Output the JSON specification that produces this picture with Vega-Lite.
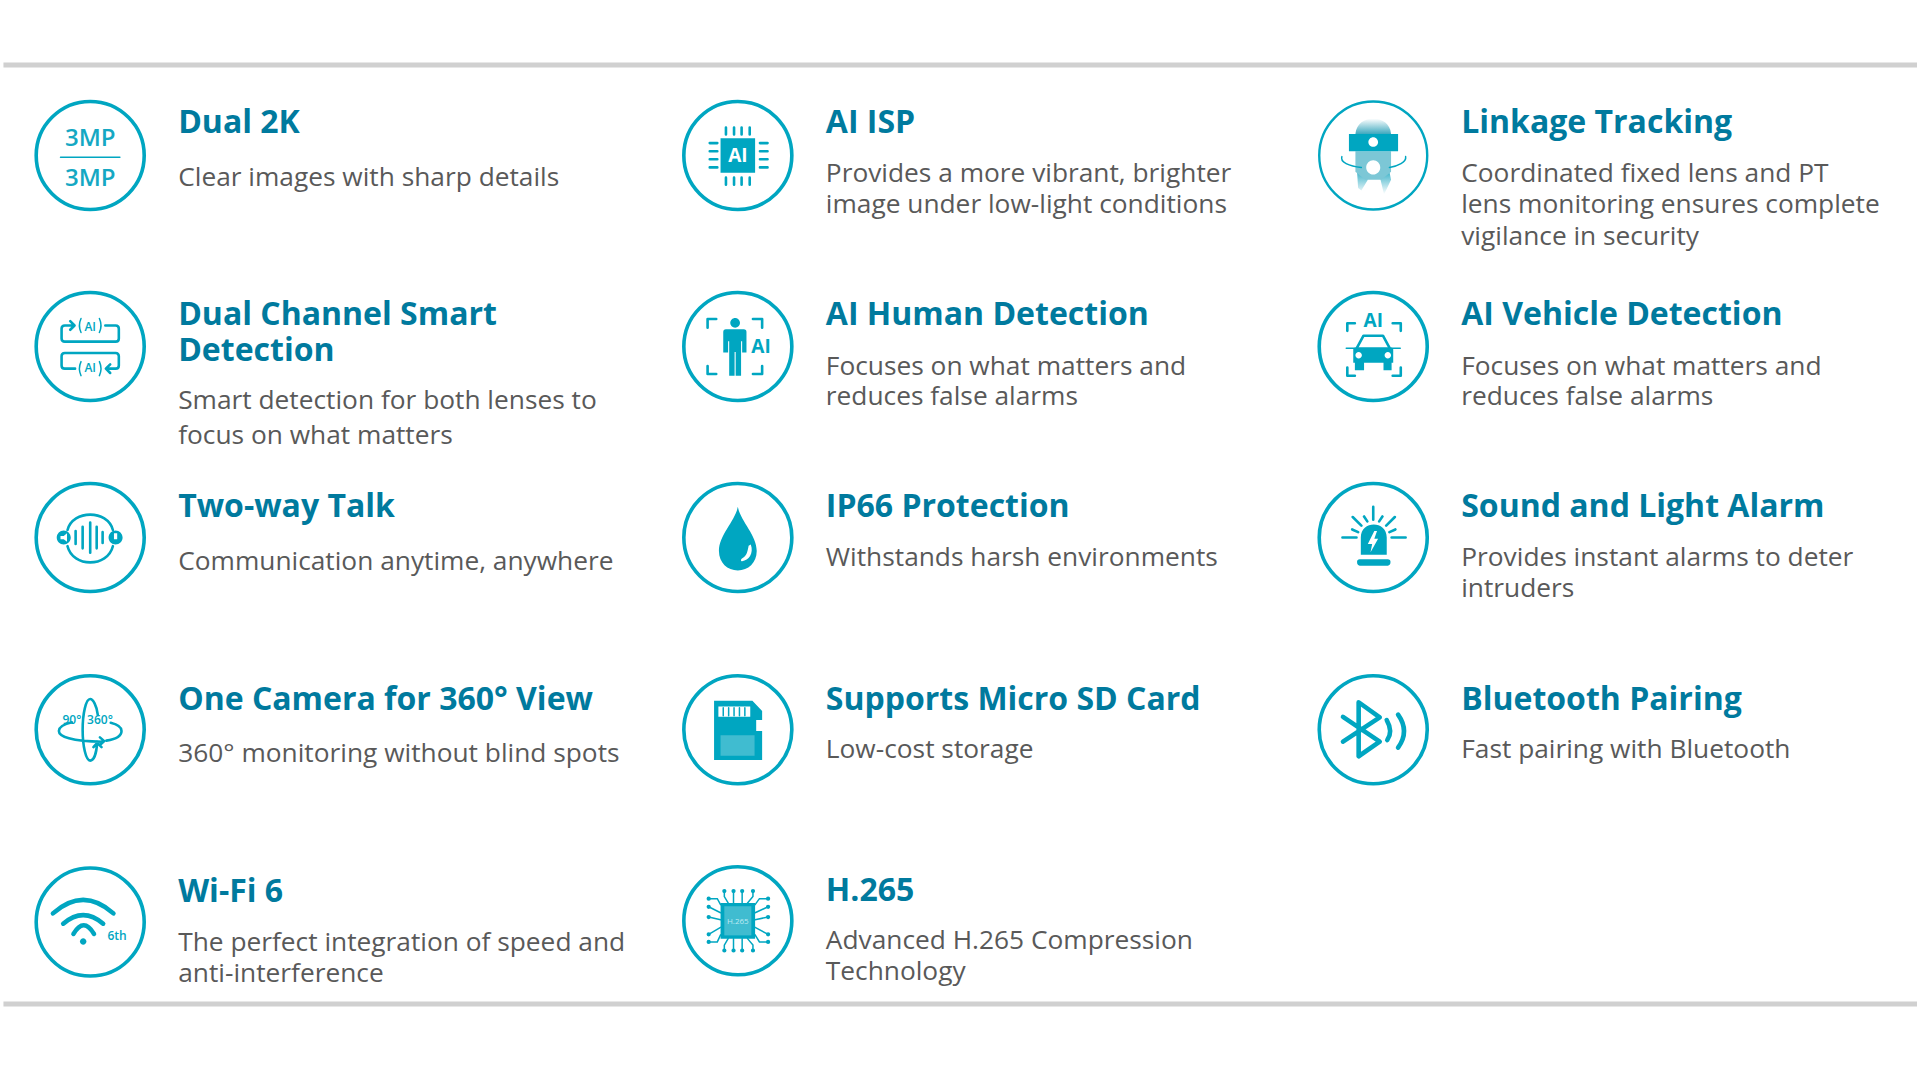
{
  "$schema": "https://vega.github.io/schema/vega-lite/v6.json",
  "description": "Camera feature overview: fourteen icons with headings and descriptions.",
  "autosize": {"type": "fit", "contains": "padding"},
  "width": 1920,
  "height": 1080,
  "padding": 0,
  "background": "white",
  "config": {"view": {"stroke": null}},
  "datasets": {
    "rules": [
      {"x": 2, "x2": 1568, "y": 53},
      {"x": 2, "x2": 1568, "y": 820}
    ],
    "parts": [
      {"x": 73, "y": 127, "part": "ring", "kind": "ring"},
      {"x": 73, "y": 283, "part": "ring", "kind": "ring"},
      {"x": 73, "y": 439, "part": "ring", "kind": "ring"},
      {"x": 73, "y": 596, "part": "ring", "kind": "ring"},
      {"x": 73, "y": 753, "part": "ring", "kind": "ring"},
      {"x": 603, "y": 127, "part": "ring", "kind": "ring"},
      {"x": 603, "y": 283, "part": "ring", "kind": "ring"},
      {"x": 603, "y": 439, "part": "ring", "kind": "ring"},
      {"x": 603, "y": 596, "part": "ring", "kind": "ring"},
      {"x": 603, "y": 752, "part": "ring", "kind": "ring"},
      {"x": 1123, "y": 127, "part": "ring", "kind": "thinring"},
      {"x": 1123, "y": 283, "part": "ring", "kind": "ring"},
      {"x": 1123, "y": 439, "part": "ring", "kind": "ring"},
      {"x": 1123, "y": 596, "part": "ring", "kind": "ring"},
      {"x": 73, "y": 127, "part": "mp-line", "kind": "thin"},
      {"x": 73, "y": 283, "part": "ai-loops", "kind": "line"},
      {"x": 73, "y": 283, "part": "ai-brackets", "kind": "thin"},
      {"x": 603, "y": 127, "part": "chip-core", "kind": "fill"},
      {"x": 603, "y": 127, "part": "chip-pins", "kind": "line"},
      {"x": 603, "y": 283, "part": "person", "kind": "fill"},
      {"x": 603, "y": 283, "part": "person-frame", "kind": "line"},
      {"x": 1123, "y": 127, "part": "cam-glow", "kind": "glowup"},
      {"x": 1123, "y": 127, "part": "cam-legs", "kind": "glowdown"},
      {"x": 1123, "y": 127, "part": "cam-tint", "kind": "tint"},
      {"x": 1123, "y": 127, "part": "cam-fill", "kind": "fill"},
      {"x": 1123, "y": 127, "part": "cam-holes", "kind": "white"},
      {"x": 1123, "y": 127, "part": "cam-orbit", "kind": "thin"},
      {"x": 1123, "y": 283, "part": "car-fill", "kind": "fill"},
      {"x": 1123, "y": 283, "part": "car-lights", "kind": "white"},
      {"x": 1123, "y": 283, "part": "car-line", "kind": "line"},
      {"x": 1123, "y": 283, "part": "car-beam", "kind": "thin"},
      {"x": 73, "y": 439, "part": "talk-line", "kind": "line"},
      {"x": 73, "y": 439, "part": "talk-ends", "kind": "fill"},
      {"x": 73, "y": 439, "part": "talk-marks", "kind": "white"},
      {"x": 603, "y": 439, "part": "drop", "kind": "fill"},
      {"x": 603, "y": 439, "part": "drop-shine", "kind": "white"},
      {"x": 1123, "y": 439, "part": "alarm-fill", "kind": "fill"},
      {"x": 1123, "y": 439, "part": "alarm-bolt", "kind": "white"},
      {"x": 1123, "y": 439, "part": "alarm-rays", "kind": "line"},
      {"x": 73, "y": 596, "part": "orbit-line", "kind": "line"},
      {"x": 603, "y": 596, "part": "sd-card", "kind": "fill"},
      {"x": 603, "y": 596, "part": "sd-slot", "kind": "white"},
      {"x": 603, "y": 596, "part": "sd-label", "kind": "veil"},
      {"x": 603, "y": 596, "part": "sd-teeth", "kind": "thin"},
      {"x": 1123, "y": 596, "part": "bt-rune", "kind": "thick"},
      {"x": 1123, "y": 596, "part": "bt-waves", "kind": "thick"},
      {"x": 73, "y": 753, "part": "wifi-arcs", "kind": "thick"},
      {"x": 73, "y": 753, "part": "wifi-dot", "kind": "fill"},
      {"x": 603, "y": 752, "part": "h265-chip", "kind": "fill"},
      {"x": 603, "y": 752, "part": "h265-inner", "kind": "veil"},
      {"x": 603, "y": 752, "part": "h265-traces", "kind": "thin"},
      {"x": 603, "y": 752, "part": "h265-dots", "kind": "dot"}
    ],
    "texts": [
      {"x": 145, "y": 108.5, "text": "Dual 2K", "role": "title"},
      {"x": 145, "y": 152, "text": "Clear images with sharp details", "role": "body"},
      {"x": 675, "y": 108.5, "text": "AI ISP", "role": "title"},
      {"x": 675, "y": 149, "text": "Provides a more vibrant, brighter", "role": "body"},
      {"x": 675, "y": 174, "text": "image under low-light conditions", "role": "body"},
      {"x": 1195, "y": 108.5, "text": "Linkage Tracking", "role": "title"},
      {"x": 1195, "y": 149, "text": "Coordinated fixed lens and PT", "role": "body"},
      {"x": 1195, "y": 174, "text": "lens monitoring ensures complete", "role": "body"},
      {"x": 1195, "y": 200, "text": "vigilance in security", "role": "body"},
      {"x": 145, "y": 265.5, "text": "Dual Channel Smart", "role": "title"},
      {"x": 145, "y": 294.5, "text": "Detection", "role": "title"},
      {"x": 145, "y": 334, "text": "Smart detection for both lenses to", "role": "body"},
      {"x": 145, "y": 362.5, "text": "focus on what matters", "role": "body"},
      {"x": 675, "y": 265.5, "text": "AI Human Detection", "role": "title"},
      {"x": 675, "y": 306, "text": "Focuses on what matters and", "role": "body"},
      {"x": 675, "y": 331, "text": "reduces false alarms", "role": "body"},
      {"x": 1195, "y": 265.5, "text": "AI Vehicle Detection", "role": "title"},
      {"x": 1195, "y": 306, "text": "Focuses on what matters and", "role": "body"},
      {"x": 1195, "y": 331, "text": "reduces false alarms", "role": "body"},
      {"x": 145, "y": 422.5, "text": "Two-way Talk", "role": "title"},
      {"x": 145, "y": 465.5, "text": "Communication anytime, anywhere", "role": "body"},
      {"x": 675, "y": 422.5, "text": "IP66 Protection", "role": "title"},
      {"x": 675, "y": 462, "text": "Withstands harsh environments", "role": "body"},
      {"x": 1195, "y": 422.5, "text": "Sound and Light Alarm", "role": "title"},
      {"x": 1195, "y": 462, "text": "Provides instant alarms to deter", "role": "body"},
      {"x": 1195, "y": 487.5, "text": "intruders", "role": "body"},
      {"x": 145, "y": 580, "text": "One Camera for 360° View", "role": "title"},
      {"x": 145, "y": 622, "text": "360° monitoring without blind spots", "role": "body"},
      {"x": 675, "y": 580, "text": "Supports Micro SD Card", "role": "title"},
      {"x": 675, "y": 619, "text": "Low-cost storage", "role": "body"},
      {"x": 1195, "y": 580, "text": "Bluetooth Pairing", "role": "title"},
      {"x": 1195, "y": 619, "text": "Fast pairing with Bluetooth", "role": "body"},
      {"x": 145, "y": 737, "text": "Wi-Fi 6", "role": "title"},
      {"x": 145, "y": 776.5, "text": "The perfect integration of speed and", "role": "body"},
      {"x": 145, "y": 802, "text": "anti-interference", "role": "body"},
      {"x": 675, "y": 736, "text": "H.265", "role": "title"},
      {"x": 675, "y": 775, "text": "Advanced H.265 Compression", "role": "body"},
      {"x": 675, "y": 800, "text": "Technology", "role": "body"}
    ],
    "glyphs": [
      {"x": 73, "y": 119, "text": "3MP", "role": "mp"},
      {"x": 73, "y": 152, "text": "3MP", "role": "mp"},
      {"x": 622, "y": 288, "text": "AI", "role": "ai"},
      {"x": 1123, "y": 267, "text": "AI", "role": "ai"},
      {"x": 603, "y": 132, "text": "AI", "role": "chip"},
      {"x": 73, "y": 270, "text": "AI", "role": "small"},
      {"x": 73, "y": 304, "text": "AI", "role": "small"},
      {"x": 58, "y": 591, "text": "90°", "role": "small"},
      {"x": 81, "y": 591, "text": "360°", "role": "small"},
      {"x": 95, "y": 768, "text": "6th", "role": "small"},
      {"x": 603, "y": 755, "text": "H.265", "role": "tiny"}
    ]
  },
  "encoding": {
    "x": {"field": "x", "type": "quantitative", "axis": null, "scale": {"domain": [0, 1568], "nice": false, "zero": false}},
    "y": {"field": "y", "type": "quantitative", "axis": null, "scale": {"domain": [0, 882], "reverse": true, "nice": false, "zero": false}}
  },
  "layer": [
    {
      "data": {"name": "rules"},
      "mark": {"type": "rule", "color": "#d0d0d0", "strokeWidth": 5},
      "encoding": {"x2": {"field": "x2"}}
    },
    {
      "data": {"name": "parts"},
      "encoding": {
        "shape": {
          "field": "part",
          "type": "nominal",
          "legend": null,
          "scale": {
            "domain": ["ring", "mp-line", "ai-loops", "ai-brackets", "chip-core", "chip-pins", "person", "person-frame", "cam-glow", "cam-legs", "cam-tint", "cam-fill", "cam-holes", "cam-orbit", "car-fill", "car-lights", "car-line", "car-beam", "talk-line", "talk-ends", "talk-marks", "drop", "drop-shine", "alarm-fill", "alarm-bolt", "alarm-rays", "orbit-line", "sd-card", "sd-slot", "sd-label", "sd-teeth", "bt-rune", "bt-waves", "wifi-arcs", "wifi-dot", "h265-chip", "h265-inner", "h265-traces", "h265-dots"],
            "range": [
              "circle",
              "M -0.55 0.03 L 0.55 0.03",
              "M -0.3 -0.39 L -0.47 -0.39 Q -0.53 -0.39 -0.53 -0.33 L -0.53 -0.15 Q -0.53 -0.09 -0.47 -0.09 L 0.47 -0.09 Q 0.53 -0.09 0.53 -0.15 L 0.53 -0.33 Q 0.53 -0.39 0.47 -0.39 L 0.28 -0.39 M -0.37 -0.47 L -0.29 -0.39 L -0.37 -0.31 M 0.3 0.41 L 0.47 0.41 Q 0.53 0.41 0.53 0.35 L 0.53 0.18 Q 0.53 0.12 0.47 0.12 L -0.47 0.12 Q -0.53 0.12 -0.53 0.18 L -0.53 0.35 Q -0.53 0.41 -0.47 0.41 L -0.28 0.41 M 0.37 0.33 L 0.29 0.41 L 0.37 0.49",
              "M -0.17 -0.52 Q -0.23 -0.39 -0.17 -0.26 M 0.17 -0.52 Q 0.23 -0.39 0.17 -0.26 M -0.17 0.28 Q -0.23 0.41 -0.17 0.54 M 0.17 0.28 Q 0.23 0.41 0.17 0.54",
              "M -0.32 -0.32 L 0.32 -0.32 L 0.32 0.32 L -0.32 0.32 Z",
              "M -0.22 -0.52 L -0.22 -0.39 M -0.07 -0.52 L -0.07 -0.39 M 0.07 -0.52 L 0.07 -0.39 M 0.22 -0.52 L 0.22 -0.39 M -0.22 0.41 L -0.22 0.54 M -0.07 0.41 L -0.07 0.54 M 0.07 0.41 L 0.07 0.54 M 0.22 0.41 L 0.22 0.54 M -0.52 -0.23 L -0.38 -0.23 M -0.52 -0.08 L -0.38 -0.08 M -0.52 0.07 L -0.38 0.07 M -0.52 0.22 L -0.38 0.22 M 0.41 -0.23 L 0.55 -0.23 M 0.41 -0.08 L 0.55 -0.08 M 0.41 0.07 L 0.55 0.07 M 0.41 0.22 L 0.55 0.22",
              "M -0.14 -0.44 C -0.14 -0.49 -0.1 -0.53 -0.05 -0.53 C 0 -0.53 0.04 -0.49 0.04 -0.44 C 0.04 -0.39 0 -0.35 -0.05 -0.35 C -0.1 -0.35 -0.14 -0.39 -0.14 -0.44 Z M -0.22 -0.32 L 0.11 -0.32 Q 0.16 -0.32 0.16 -0.27 L 0.16 0.11 L 0.08 0.11 L 0.08 -0.1 L 0.06 -0.1 L 0.06 0.54 L -0.04 0.54 L -0.04 0.1 L -0.06 0.1 L -0.06 0.54 L -0.16 0.54 L -0.16 -0.1 L -0.18 -0.1 L -0.18 0.11 L -0.27 0.11 L -0.27 -0.27 Q -0.27 -0.32 -0.22 -0.32 Z",
              "M -0.4 -0.51 L -0.56 -0.51 L -0.56 -0.35 M 0.28 -0.51 L 0.45 -0.51 L 0.45 -0.35 M -0.56 0.36 L -0.56 0.51 L -0.4 0.51 M 0.45 0.36 L 0.45 0.51 L 0.28 0.51",
              "M -0.33 -0.4 C -0.3 -0.78 0.3 -0.78 0.33 -0.4 Z",
              "M -0.3 0.3 L -0.15 0.3 L -0.1 0.45 L -0.22 0.65 L -0.28 0.6 Z M 0.1 0.3 L 0.3 0.3 L 0.33 0.45 L 0.2 0.72 Z",
              "M -0.33 -0.08 L 0.33 -0.08 L 0.33 0.3 L 0.15 0.45 L -0.15 0.45 L -0.33 0.3 Z",
              "M -0.45 -0.4 L 0.46 -0.4 L 0.46 -0.08 L -0.45 -0.08 Z",
              "M -0.09 -0.25 C -0.09 -0.3 -0.05 -0.34 0 -0.34 C 0.05 -0.34 0.09 -0.3 0.09 -0.25 C 0.09 -0.2 0.05 -0.16 0 -0.16 C -0.05 -0.16 -0.09 -0.2 -0.09 -0.25 Z M -0.13 0.22 C -0.13 0.15 -0.07 0.09 0 0.09 C 0.07 0.09 0.13 0.15 0.13 0.22 C 0.13 0.29 0.07 0.35 0 0.35 C -0.07 0.35 -0.13 0.29 -0.13 0.22 Z",
              "M -0.58 0.02 C -0.62 0.12 -0.45 0.2 -0.22 0.22 M 0.6 0.02 C 0.62 0.12 0.45 0.2 0.3 0.22",
              "M -0.37 0.05 Q -0.37 0.02 -0.33 0.02 L 0.33 0.02 Q 0.37 0.02 0.37 0.05 L 0.37 0.3 L 0.34 0.3 L 0.34 0.44 L 0.19 0.44 L 0.19 0.3 L -0.17 0.3 L -0.17 0.44 L -0.34 0.44 L -0.34 0.3 L -0.37 0.3 Z",
              "M -0.33 0.16 C -0.33 0.13 -0.3 0.1 -0.27 0.1 C -0.24 0.1 -0.21 0.13 -0.21 0.16 C -0.21 0.19 -0.24 0.22 -0.27 0.22 C -0.3 0.22 -0.33 0.19 -0.33 0.16 Z M 0.21 0.16 C 0.21 0.13 0.24 0.1 0.27 0.1 C 0.3 0.1 0.33 0.13 0.33 0.16 C 0.33 0.19 0.3 0.22 0.27 0.22 C 0.24 0.22 0.21 0.19 0.21 0.16 Z",
              "M -0.3 0.02 L -0.18 -0.2 L 0.18 -0.2 L 0.3 0.02 M -0.34 -0.43 L -0.48 -0.43 L -0.48 -0.29 M 0.36 -0.43 L 0.51 -0.43 L 0.51 -0.29 M -0.48 0.39 L -0.48 0.54 L -0.34 0.54 M 0.51 0.39 L 0.51 0.54 L 0.36 0.54",
              "M -0.5 0.03 L 0.5 0.03",
              "M -0.27 -0.12 L -0.27 0.12 M -0.14 -0.2 L -0.14 0.2 M 0 -0.28 L 0 0.28 M 0.12 -0.2 L 0.12 0.2 M 0.23 -0.1 L 0.23 0.1 M -0.42 -0.14 C -0.32 -0.52 0.32 -0.52 0.42 -0.14 M -0.42 0.16 C -0.32 0.56 0.32 0.56 0.42 0.16",
              "M -0.62 0 C -0.62 -0.07 -0.56 -0.13 -0.49 -0.13 C -0.42 -0.13 -0.36 -0.07 -0.36 0 C -0.36 0.07 -0.42 0.13 -0.49 0.13 C -0.56 0.13 -0.62 0.07 -0.62 0 Z M 0.34 0 C 0.34 -0.07 0.4 -0.13 0.47 -0.13 C 0.54 -0.13 0.6 -0.07 0.6 0 C 0.6 0.07 0.54 0.13 0.47 0.13 C 0.4 0.13 0.34 0.07 0.34 0 Z",
              "M -0.55 -0.03 L -0.49 -0.03 L -0.43 -0.08 L -0.43 0.08 L -0.49 0.03 L -0.55 0.03 Z M 0.44 -0.08 L 0.5 -0.08 L 0.5 0.03 L 0.44 0.03 Z",
              "M 0 -0.57 C 0.05 -0.3 0.35 -0.05 0.35 0.25 C 0.35 0.47 0.19 0.61 0 0.61 C -0.19 0.61 -0.35 0.47 -0.35 0.25 C -0.35 -0.05 -0.05 -0.3 0 -0.57 Z",
              "M 0.24 0.13 C 0.3 0.3 0.2 0.42 0.08 0.44 C 0.05 0.44 0.05 0.4 0.09 0.38 C 0.17 0.33 0.18 0.25 0.2 0.15 Z",
              "M -0.23 0.32 L -0.23 0 C -0.23 -0.32 0.25 -0.32 0.25 0 L 0.25 0.32 Z M -0.3 0.45 Q -0.3 0.4 -0.25 0.4 L 0.27 0.4 Q 0.32 0.4 0.32 0.45 Q 0.32 0.52 0.27 0.52 L -0.25 0.52 Q -0.3 0.52 -0.3 0.45 Z",
              "M 0.02 -0.12 L -0.1 0.12 L -0.02 0.12 L -0.05 0.27 L 0.09 0.02 L 0.02 0.02 L 0.07 -0.12 Z",
              "M 0 -0.57 L 0 -0.33 M -0.38 -0.38 L -0.22 -0.22 M 0.4 -0.38 L 0.24 -0.22 M -0.17 -0.39 L -0.11 -0.3 M 0.17 -0.39 L 0.11 -0.3 M -0.39 -0.15 L -0.28 -0.1 M 0.41 -0.15 L 0.3 -0.1 M -0.57 0 L -0.31 0 M 0.34 0 L 0.6 0",
              "M 0.14 -0.28 C 0.12 -0.45 0.05 -0.57 0 -0.57 C -0.08 -0.57 -0.14 -0.3 -0.14 0 C -0.14 0.3 -0.08 0.57 0 0.57 C 0.08 0.57 0.12 0.4 0.13 0.22 M -0.34 -0.14 C -0.5 -0.1 -0.58 -0.04 -0.58 0.02 C -0.58 0.12 -0.35 0.22 0.22 0.22 M 0.3 0.2 C 0.48 0.17 0.58 0.1 0.58 0.02 C 0.58 -0.04 0.5 -0.1 0.38 -0.13 M 0.18 0.14 L 0.26 0.21 L 0.18 0.28 M 0.06 0.32 L 0.13 0.24 L 0.21 0.32",
              "M -0.44 -0.54 L 0.27 -0.54 L 0.45 -0.35 L 0.45 -0.18 L 0.34 -0.18 L 0.34 0.02 L 0.45 0.02 L 0.45 0.56 L -0.44 0.56 Z",
              "M -0.36 -0.43 L 0.23 -0.43 L 0.23 -0.24 L -0.36 -0.24 Z",
              "M -0.32 0.1 L 0.31 0.1 L 0.31 0.48 L -0.32 0.48 Z",
              "M -0.27 -0.41 L -0.27 -0.26 M -0.17 -0.41 L -0.17 -0.26 M -0.07 -0.41 L -0.07 -0.26 M 0.03 -0.41 L 0.03 -0.26 M 0.13 -0.41 L 0.13 -0.26",
              "M -0.56 -0.24 L 0.12 0.22 L -0.27 0.49 L -0.27 -0.51 L 0.12 -0.23 L -0.56 0.22",
              "M 0.25 -0.18 Q 0.37 0.03 0.26 0.19 M 0.46 -0.28 Q 0.68 0.03 0.46 0.33",
              "M -0.69 -0.16 Q -0.13 -0.66 0.43 -0.16 M -0.5 0.03 Q -0.13 -0.29 0.24 0.03 M -0.31 0.22 Q -0.12 -0.1 0.07 0.22",
              "M -0.19 0.36 C -0.19 0.33 -0.16 0.3 -0.13 0.3 C -0.1 0.3 -0.07 0.33 -0.07 0.36 C -0.07 0.39 -0.1 0.42 -0.13 0.42 C -0.16 0.42 -0.19 0.39 -0.19 0.36 Z",
              "M -0.32 -0.33 L 0.32 -0.33 L 0.32 0.33 L -0.32 0.33 Z",
              "M -0.25 -0.27 L 0.25 -0.27 L 0.25 0.27 L -0.25 0.27 Z",
              "M -0.25 -0.55 L -0.25 -0.45 L -0.18 -0.33 M -0.08 -0.55 L -0.08 -0.33 M 0.08 -0.55 L 0.08 -0.33 M 0.28 -0.55 L 0.28 -0.45 L 0.18 -0.33 M -0.25 0.55 L -0.25 0.45 L -0.18 0.33 M -0.08 0.55 L -0.08 0.33 M 0.08 0.55 L 0.08 0.33 M 0.28 0.55 L 0.28 0.45 L 0.18 0.33 M -0.54 -0.41 L -0.38 -0.41 L -0.32 -0.3 M -0.54 -0.26 L -0.32 -0.15 M -0.54 -0.07 L -0.32 -0.02 M -0.54 0.25 L -0.32 0.12 M -0.54 0.39 L -0.38 0.39 L -0.32 0.26 M 0.56 -0.41 L 0.4 -0.41 L 0.32 -0.3 M 0.56 -0.26 L 0.32 -0.15 M 0.56 -0.07 L 0.32 -0.02 M 0.56 0.25 L 0.32 0.12 M 0.56 0.39 L 0.4 0.39 L 0.32 0.26",
              "M -0.25 -0.55 L -0.249 -0.55 M -0.08 -0.55 L -0.079 -0.55 M 0.08 -0.55 L 0.081 -0.55 M 0.28 -0.55 L 0.281 -0.55 M -0.25 0.55 L -0.249 0.55 M -0.08 0.55 L -0.079 0.55 M 0.08 0.55 L 0.081 0.55 M 0.28 0.55 L 0.281 0.55 M -0.54 -0.41 L -0.539 -0.41 M -0.54 -0.26 L -0.539 -0.26 M -0.54 -0.07 L -0.539 -0.07 M -0.54 0.25 L -0.539 0.25 M -0.54 0.39 L -0.539 0.39 M 0.56 -0.41 L 0.561 -0.41 M 0.56 -0.26 L 0.561 -0.26 M 0.56 -0.07 L 0.561 -0.07 M 0.56 0.25 L 0.561 0.25 M 0.56 0.39 L 0.561 0.39"
            ]
          }
        }
      },
      "layer": [
        {"transform": [{"filter": "datum.kind == 'ring'"}], "mark": {"type": "point", "filled": false, "size": 11664, "color": "#00a6c1", "opacity": 1, "strokeWidth": 3.6}},
        {"transform": [{"filter": "datum.kind == 'thinring'"}], "mark": {"type": "point", "filled": false, "size": 11664, "color": "#00a6c1", "opacity": 1, "strokeWidth": 2.4}},
        {"transform": [{"filter": "datum.kind == 'glowup'"}], "mark": {"type": "point", "filled": true, "size": 11664, "opacity": 1, "color": {"gradient": "linear", "x1": 0, "y1": 1, "x2": 0, "y2": 0, "stops": [{"offset": 0, "color": "#3fa9bf"}, {"offset": 1, "color": "#ffffff"}]}}},
        {"transform": [{"filter": "datum.kind == 'glowdown'"}], "mark": {"type": "point", "filled": true, "size": 11664, "opacity": 1, "color": {"gradient": "linear", "x1": 0, "y1": 0, "x2": 0, "y2": 1, "stops": [{"offset": 0, "color": "#3fb3c9"}, {"offset": 1, "color": "#ffffff"}]}}},
        {"transform": [{"filter": "datum.kind == 'tint'"}], "mark": {"type": "point", "filled": true, "size": 11664, "color": "#7cc7d6", "opacity": 1}},
        {"transform": [{"filter": "datum.kind == 'fill'"}], "mark": {"type": "point", "filled": true, "size": 11664, "color": "#00a6c1", "opacity": 1}},
        {"transform": [{"filter": "datum.kind == 'white'"}], "mark": {"type": "point", "filled": true, "size": 11664, "color": "white", "opacity": 1}},
        {"transform": [{"filter": "datum.kind == 'veil'"}], "mark": {"type": "point", "filled": true, "size": 11664, "color": "white", "opacity": 0.25}},
        {"transform": [{"filter": "datum.kind == 'line'"}], "mark": {"type": "point", "filled": false, "size": 11664, "color": "#00a6c1", "opacity": 1, "strokeWidth": 2.6, "strokeCap": "round", "strokeJoin": "round"}},
        {"transform": [{"filter": "datum.kind == 'thin'"}], "mark": {"type": "point", "filled": false, "size": 11664, "color": "#00a6c1", "opacity": 1, "strokeWidth": 1.5, "strokeCap": "round"}},
        {"transform": [{"filter": "datum.kind == 'thick'"}], "mark": {"type": "point", "filled": false, "size": 11664, "color": "#00a6c1", "opacity": 1, "strokeWidth": 4.6, "strokeCap": "round", "strokeJoin": "round"}},
        {"transform": [{"filter": "datum.kind == 'dot'"}], "mark": {"type": "point", "filled": false, "size": 11664, "color": "#00a6c1", "opacity": 1, "strokeWidth": 4.2, "strokeCap": "round"}}
      ]
    },
    {
      "data": {"name": "texts"},
      "transform": [{"filter": "datum.role == 'title'"}],
      "mark": {"type": "text", "align": "left", "baseline": "alphabetic", "font": "Open Sans", "fontWeight": 700, "fontSize": 32, "color": "#007a9e"},
      "encoding": {"text": {"field": "text"}}
    },
    {
      "data": {"name": "texts"},
      "transform": [{"filter": "datum.role == 'body'"}],
      "mark": {"type": "text", "align": "left", "baseline": "alphabetic", "font": "Open Sans", "fontSize": 26.3, "color": "#595959"},
      "encoding": {"text": {"field": "text"}}
    },
    {
      "data": {"name": "glyphs"},
      "transform": [{"filter": "datum.role == 'mp'"}],
      "mark": {"type": "text", "align": "center", "baseline": "alphabetic", "font": "Open Sans", "fontWeight": 600, "fontSize": 24, "color": "#15a8c3"},
      "encoding": {"text": {"field": "text"}}
    },
    {
      "data": {"name": "glyphs"},
      "transform": [{"filter": "datum.role == 'ai'"}],
      "mark": {"type": "text", "align": "center", "baseline": "alphabetic", "font": "Open Sans", "fontWeight": 700, "fontSize": 19, "color": "#00a6c1"},
      "encoding": {"text": {"field": "text"}}
    },
    {
      "data": {"name": "glyphs"},
      "transform": [{"filter": "datum.role == 'chip'"}],
      "mark": {"type": "text", "align": "center", "baseline": "alphabetic", "font": "Open Sans", "fontWeight": 700, "fontSize": 19, "color": "white"},
      "encoding": {"text": {"field": "text"}}
    },
    {
      "data": {"name": "glyphs"},
      "transform": [{"filter": "datum.role == 'small'"}],
      "mark": {"type": "text", "align": "center", "baseline": "alphabetic", "font": "Open Sans", "fontWeight": 600, "fontSize": 12, "color": "#00a6c1"},
      "encoding": {"text": {"field": "text"}}
    },
    {
      "data": {"name": "glyphs"},
      "transform": [{"filter": "datum.role == 'tiny'"}],
      "mark": {"type": "text", "align": "center", "baseline": "alphabetic", "font": "Open Sans", "fontSize": 8, "color": "#bfeaf2"},
      "encoding": {"text": {"field": "text"}}
    }
  ]
}
